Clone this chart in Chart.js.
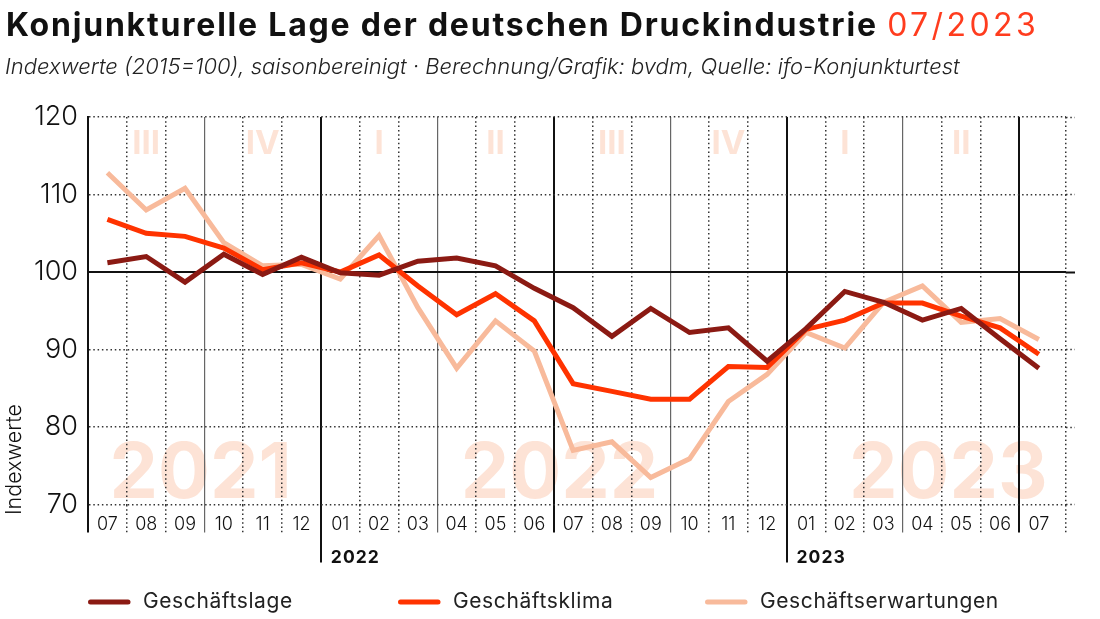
<!DOCTYPE html>
<html><head><meta charset="utf-8">
<script src="https://cdn.jsdelivr.net/npm/chart.js@4.4.0/dist/chart.umd.min.js"></script>
<style>
html,body{margin:0;padding:0;background:#fff;}
#wrap{position:relative;width:1100px;height:619px;overflow:hidden;}
#c{position:absolute;left:0;top:0;width:1100px;height:619px;}
#title{position:absolute;left:6px;top:5px;font:700 32px Inter, sans-serif;color:#111;white-space:nowrap;letter-spacing:1.8px;}
#title span{font-weight:400;color:#ff3c1e;letter-spacing:3.4px;}
#sub{position:absolute;left:5px;top:52.5px;font:italic 300 22px Inter, sans-serif;color:#222;white-space:nowrap;}
</style></head><body>
<div id="wrap">
<canvas id="c" width="1100" height="619"></canvas>
<div id="title">Konjunkturelle Lage der deutschen Druckindustrie <span>07/2023</span></div>
<div id="sub">Indexwerte (2015=100), saisonbereinigt · Berechnung/Grafik: bvdm, Quelle: ifo-Konjunkturtest</div>
</div>
<script>
// ---- data ----
const months = ['07','08','09','10','11','12','01','02','03','04','05','06','07','08','09','10','11','12','01','02','03','04','05','06','07'];
const geschaeftslage = [101.2,102.0,98.7,102.3,99.7,101.9,99.9,99.6,101.4,101.8,100.8,97.9,95.4,91.7,95.3,92.2,92.8,88.5,92.7,97.5,96.1,93.8,95.3,91.4,87.6];
const geschaeftsklima = [106.8,105.0,104.6,103.1,100.3,101.2,100.0,102.2,98.2,94.5,97.2,93.7,85.6,84.6,83.6,83.6,87.8,87.7,92.6,93.8,96.0,96.0,94.3,92.8,89.4];
const geschaeftserwartungen = [112.8,108.0,110.8,103.8,100.8,101.0,99.1,104.7,95.4,87.6,93.7,89.8,77.0,78.1,73.5,75.9,83.3,86.8,92.2,90.2,96.1,98.2,93.5,94.0,91.3];
const seriesNames = ['Geschäftslage','Geschäftsklima','Geschäftserwartungen'];
const seriesColors = ['#8b1a13','#ff3300','#f8ba9b'];
const yTicks = [70,80,90,100,110,120];
const quarterLabels = ['III','IV','I','II','III','IV','I','II'];
const quarterCenters = [1,4,7,10,13,16,19,22];
const watermarkYears = ['2021','2022','2023'];
const watermarkCenters = [2.4,11.65,21.67];
const yearLabels = ['2022','2023'];
const yearStarts = [5.5,17.5];
const halfYearLines = [-0.5,11.5,23.5];
const quarterLines = [2.5,8.5,14.5,20.5];
const xMax = 24.7;

const monthLines = [];
for (let k = 0; k < months.length - 1; k++) {
  const v = k + 0.5;
  if (!quarterLines.includes(v) && !halfYearLines.includes(v) && !yearStarts.includes(v)) monthLines.push(v);
}
monthLines.push(xMax);

const DOT = [1.5, 2.8];
const pts = arr => arr.map((v, i) => ({x: i, y: v}));
const fixTicks = vals => s => { s.ticks = vals.map(v => ({value: v})); };

const bgText = {
  id: 'bgText',
  beforeDraw(chart) {
    const {ctx, chartArea, scales: {x}} = chart;
    ctx.save();
    ctx.fillStyle = '#fde3d6';
    ctx.textAlign = 'center';
    ctx.textBaseline = 'alphabetic';
    ctx.font = '700 33px Inter, sans-serif';
    quarterLabels.forEach((q, i) => ctx.fillText(q, x.getPixelForValue(quarterCenters[i]), chartArea.top + 37));
    ctx.font = '700 77px Inter, sans-serif';
    watermarkYears.forEach((t, i) => ctx.fillText(t, x.getPixelForValue(watermarkCenters[i]), chartArea.bottom - 7));
    ctx.restore();
  }
};

const legendX = [88, 398, 705];

const extras = {
  id: 'extras',
  afterDraw(chart) {
    const {ctx, chartArea, scales: {x}} = chart;
    ctx.save();
    // year labels under axis
    ctx.fillStyle = '#111';
    ctx.font = '700 17.5px Inter, sans-serif';
    ctx.letterSpacing = '1px';
    ctx.textAlign = 'left';
    ctx.textBaseline = 'middle';
    yearLabels.forEach((t, i) => ctx.fillText(t, x.getPixelForValue(yearStarts[i]) + 10, chartArea.bottom + 53));
    ctx.letterSpacing = '0px';
    // y title
    ctx.save();
    ctx.translate(15, chartArea.bottom - 45);
    ctx.rotate(-Math.PI / 2);
    ctx.font = '300 21.5px Inter, sans-serif';
    ctx.textAlign = 'center';
    ctx.textBaseline = 'middle';
    ctx.fillStyle = '#111';
    ctx.fillText('Indexwerte', 0, 0);
    ctx.restore();
    // legend
    const ly = 602;
    chart.data.datasets.forEach((ds, i) => {
      ctx.strokeStyle = ds.borderColor;
      ctx.lineWidth = 5;
      ctx.lineCap = 'round';
      ctx.beginPath();
      ctx.moveTo(legendX[i] + 2.5, ly);
      ctx.lineTo(legendX[i] + 40, ly);
      ctx.stroke();
      ctx.fillStyle = '#222';
      ctx.font = '400 21px Inter, sans-serif';
      ctx.letterSpacing = '0.6px';
      ctx.textAlign = 'left';
      ctx.textBaseline = 'middle';
      ctx.fillText(ds.label, legendX[i] + 55, ly);
      ctx.letterSpacing = '0px';
    });
    ctx.restore();
  }
};

const series = [geschaeftslage, geschaeftsklima, geschaeftserwartungen];

new Chart(document.getElementById('c'), {
  type: 'line',
  data: {
    datasets: series.map((s, i) => ({
      label: seriesNames[i],
      data: pts(s),
      borderColor: seriesColors[i],
      backgroundColor: seriesColors[i],
      borderWidth: 5,
      pointRadius: 0,
      tension: 0,
      xAxisID: 'x',
      yAxisID: 'y'
    }))
  },
  options: {
    responsive: false,
    animation: false,
    devicePixelRatio: 1,
    layout: {padding: {left: 0, right: 34, top: 117, bottom: 0}},
    plugins: {legend: {display: false}, tooltip: {enabled: false}, title: {display: false}},
    scales: {
      x: {
        type: 'linear', position: 'bottom', min: -0.5, max: xMax, weight: 10,
        afterBuildTicks: fixTicks(months.map((m, i) => i)),
        afterFit: s => { s.height = 114.4; },
        ticks: {autoSkip: false, maxRotation: 0, padding: 9, color: '#111',
          font: {family: 'Inter', size: 18, weight: 300},
          callback: v => months[v] !== undefined ? months[v] : ''},
        grid: {display: false, drawTicks: false},
        border: {display: false}
      },
      xm: {
        type: 'linear', position: 'bottom', min: -0.5, max: xMax, weight: 0,
        afterBuildTicks: fixTicks(monthLines),
        afterFit: s => { s.height = 0; },
        ticks: {display: false},
        grid: {color: '#333', lineWidth: 1.5, drawTicks: true, tickLength: 28, tickColor: '#333', tickWidth: 1.5, tickBorderDash: DOT},
        border: {display: false, dash: DOT}
      },
      xq: {
        type: 'linear', position: 'bottom', min: -0.5, max: xMax, weight: 0,
        afterBuildTicks: fixTicks(quarterLines),
        afterFit: s => { s.height = 0; },
        ticks: {display: false},
        grid: {color: '#666', lineWidth: 1.2, drawTicks: true, tickLength: 28, tickColor: '#666', tickWidth: 1.2},
        border: {display: false}
      },
      xh: {
        type: 'linear', position: 'bottom', min: -0.5, max: xMax, weight: 0,
        afterBuildTicks: fixTicks(halfYearLines),
        afterFit: s => { s.height = 0; },
        ticks: {display: false},
        grid: {color: '#111', lineWidth: 2, drawTicks: true, tickLength: 28, tickColor: '#111', tickWidth: 2},
        border: {display: false}
      },
      xy: {
        type: 'linear', position: 'bottom', min: -0.5, max: xMax, weight: 0,
        afterBuildTicks: fixTicks(yearStarts),
        afterFit: s => { s.height = 0; },
        ticks: {display: false},
        grid: {color: '#111', lineWidth: 2, drawTicks: true, tickLength: 58, tickColor: '#111', tickWidth: 2},
        border: {display: false}
      },
      y: {
        type: 'linear', position: 'left', min: 70, max: 120, weight: 10,
        afterBuildTicks: fixTicks(yTicks),
        afterFit: s => { s.width = 88; },
        ticks: {padding: 10, color: '#111', font: {family: 'Inter', size: 27, weight: 300}},
        grid: {drawTicks: false, lineWidth: 1.5,
          color: c => (c.tick && c.tick.value === 100) ? 'rgba(0,0,0,0)' : '#333'},
        border: {display: true, color: '#111', width: 2, dash: DOT}
      },
      y100: {
        type: 'linear', position: 'left', min: 70, max: 120, weight: 0,
        afterBuildTicks: fixTicks([100]),
        afterFit: s => { s.width = 0; },
        ticks: {display: false},
        grid: {drawTicks: false, color: '#111', lineWidth: 2},
        border: {display: false}
      },
      yr: {
        type: 'linear', position: 'right', min: 70, max: 120,
        afterBuildTicks: fixTicks(yTicks),
        afterFit: s => { s.width = 0; },
        ticks: {display: false},
        grid: {drawOnChartArea: false, drawTicks: true, tickLength: 9,
          tickColor: c => (c.tick && c.tick.value === 100) ? '#111' : '#333',
          tickWidth: c => (c.tick && c.tick.value === 100) ? 2 : 1.5,
          tickBorderDash: c => (c.tick && c.tick.value === 100) ? [] : DOT},
        border: {display: false}
      }
    }
  },
  plugins: [bgText, extras]
});
</script>
</body></html>
